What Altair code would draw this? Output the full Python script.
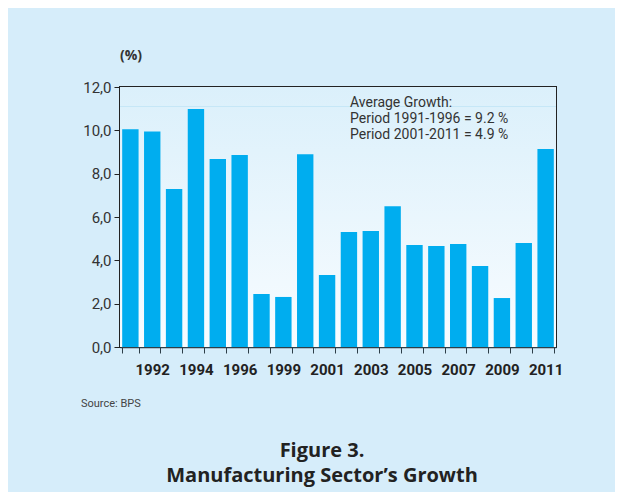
import altair as alt
import pandas as pd

years = ["1991", "1992", "1993", "1994", "1995", "1996", "1997", "1999", "2000", "2001",
         "2002", "2003", "2004", "2005", "2006", "2007", "2008", "2009", "2010", "2011"]
growth = [10.05, 9.95, 7.29, 10.98, 8.68, 8.86, 2.45, 2.31, 8.90, 3.32,
          5.31, 5.35, 6.50, 4.71, 4.66, 4.75, 3.74, 2.26, 4.80, 9.14]
shown_labels = ["1992", "1994", "1996", "1999", "2001", "2003", "2005", "2007", "2009", "2011"]
y_ticks = [0, 2, 4, 6, 8, 10, 12]
annotation = ["Average Growth:", "Period 1991-1996 = 9.2 %", "Period 2001-2011 = 4.9 %"]
title_lines = ["Figure 3.", "Manufacturing Sector\u2019s Growth"]
source = "Source: BPS"
unit = "(%)"

W, H = 436, 260
COND = "Roboto, sans-serif"
BOLD = "Open Sans, sans-serif"

df = pd.DataFrame({"year": years, "growth": growth})
one = pd.DataFrame({"k": [0]})

label_list = "[" + ",".join("'" + s + "'" for s in shown_labels) + "]"

bg = alt.Chart(one).mark_rect(
    color=alt.Gradient(
        gradient="linear",
        stops=[alt.GradientStop(color="#dbf0fb", offset=0),
               alt.GradientStop(color="#f8fcff", offset=1)],
        x1=0, x2=0, y1=0, y2=1,
    )
).encode(x=alt.value(0), x2=alt.value(W), y=alt.value(0), y2=alt.value(H))

bars = alt.Chart(df).mark_bar(color="#00adef").encode(
    x=alt.X("year:N", sort=years,
            scale=alt.Scale(paddingInner=0.25, paddingOuter=0.1),
            axis=alt.Axis(title=None, labelAngle=0, tickBand="extent",
                          labelExpr="indexof(" + label_list + ", datum.value) >= 0 ? datum.value : ''",
                          labelFontWeight="bold", labelFontSize=15, labelColor="#222",
                          labelFont=COND, labelPadding=9, tickSize=6,
                          domainColor="#2d3e48", tickColor="#2d3e48", domainWidth=1.5)),
    y=alt.Y("growth:Q", scale=alt.Scale(domain=[0, 12], nice=False),
            axis=alt.Axis(title=None, values=y_ticks, grid=False,
                          labelExpr="replace(format(datum.value, '.1f'), '.', ',')",
                          labelFontSize=15, labelColor="#333", labelFont=COND,
                          labelPadding=3, tickSize=6, domainColor="#222",
                          tickColor="#222", domainWidth=2)),
)

line = alt.Chart(one).mark_rule(color="#c6e7f7", strokeWidth=1).encode(
    y=alt.datum(11.1), x=alt.value(0), x2=alt.value(W))

ann_layers = []
for i, txt in enumerate(annotation):
    ann_layers.append(
        alt.Chart(one).mark_text(
            text=txt, align="left", baseline="alphabetic", fontSize=14,
            font=COND, color="#333"
        ).encode(x=alt.value(230), y=alt.value(20 + 16 * i))
    )

unit_t = alt.Chart(one).mark_text(
    text=unit, align="left", baseline="alphabetic", fontSize=14,
    fontWeight="bold", font=BOLD, color="#333"
).encode(x=alt.value(0), y=alt.value(-27))

src = alt.Chart(one).mark_text(
    text=source, align="left", baseline="alphabetic", fontSize=11,
    font=COND, color="#444"
).encode(x=alt.value(-39), y=alt.value(320))

ttl_layers = []
for i, txt in enumerate(title_lines):
    ttl_layers.append(
        alt.Chart(one).mark_text(
            text=txt, align="center", baseline="alphabetic", fontSize=20,
            fontWeight="bold", font=BOLD, color="#222"
        ).encode(x=alt.value(202), y=alt.value(370 + 25 * i))
    )

chart = alt.layer(bg, line, bars, *ann_layers, unit_t, src, *ttl_layers).properties(
    width=W, height=H,
    autosize=alt.AutoSizeParams(type="none"),
    padding={"left": 112, "top": 79, "right": 59, "bottom": 145},
    background="#d6edfa",
).configure_view(stroke="#222", strokeWidth=2)

chart.save("out.html", embed_options={"renderer": "svg", "actions": False})
